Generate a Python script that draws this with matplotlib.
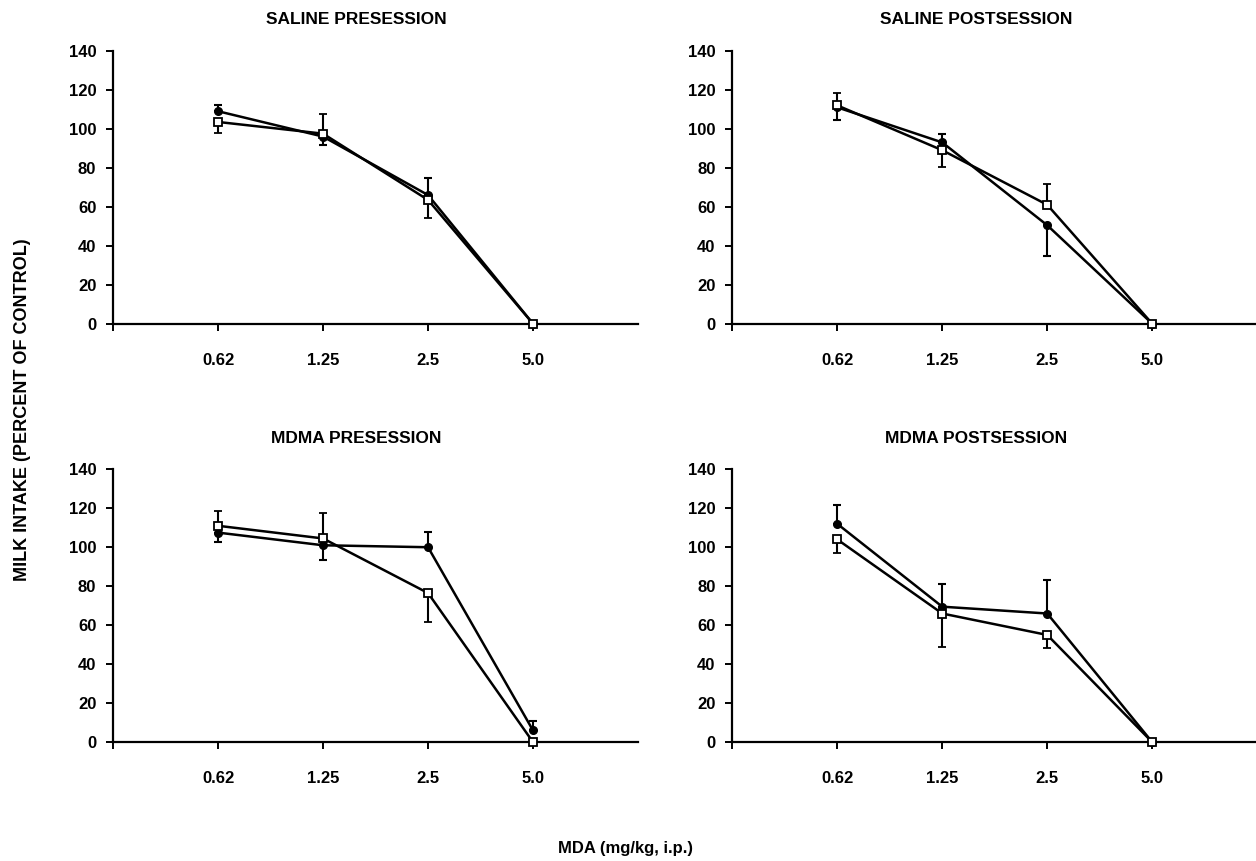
import matplotlib
matplotlib.use('Agg')
import matplotlib.pyplot as plt

plt.rcParams['font.family'] = ['Liberation Sans', 'DejaVu Sans']
plt.rcParams['font.weight'] = 'bold'

# dose categories (mg/kg)
doses = ['0.62', '1.25', '2.5', '5.0']
titles = ['SALINE PRESESSION', 'SALINE POSTSESSION', 'MDMA PRESESSION', 'MDMA POSTSESSION']

# filled circle series: means, upper and lower error
filled_vals = [[109, 96, 66, 0], [111, 93, 50.5, 0], [107.5, 101, 100, 6], [112, 69.5, 66, 0]]
filled_up = [[3, 0, 9, 0], [0, 4.5, 0, 0], [0, 0, 8, 5], [9.5, 11.5, 17, 0]]
filled_down = [[0, 4.5, 0, 0], [6.5, 0, 16, 0], [5, 7.5, 0, 0], [0, 0, 0, 0]]

# open square series
open_vals = [[103.5, 97.5, 63.5, 0], [112, 89, 61, 0], [111, 104.5, 76.5, 0], [104, 66, 55, 0]]
open_up = [[0, 10, 0, 0], [6.5, 0, 10.5, 0], [7.5, 13, 0, 0], [0, 0, 0, 0]]
open_down = [[5.5, 0, 9.5, 0], [0, 8.5, 0, 0], [0, 0, 15, 0], [7, 17, 6.5, 0]]

fig = plt.figure(figsize=(12.56, 8.61), dpi=100)

# axes boxes in figure fractions
lefts = [0.090, 0.583, 0.090, 0.583]
bottoms = [0.624, 0.624, 0.138, 0.138]
w, h = 0.418, 0.317

xpos = [1, 2, 3, 4]
for i in range(4):
    ax = fig.add_axes([lefts[i], bottoms[i], w, h])
    ax.errorbar(xpos, filled_vals[i], yerr=[filled_down[i], filled_up[i]], color='black',
                lw=1.8, marker='o', ms=5.5, mfc='black', mec='black', capsize=3, elinewidth=1.5,
                capthick=1.5, clip_on=False, zorder=3)
    ax.errorbar(xpos, open_vals[i], yerr=[open_down[i], open_up[i]], color='black',
                lw=1.8, marker='s', ms=5.5, mfc='white', mec='black', mew=1.3, capsize=3,
                elinewidth=1.5, capthick=1.5, clip_on=False, zorder=4)
    ax.set_xlim(0, 5)
    ax.set_ylim(0, 140)
    ax.set_yticks(range(0, 141, 20))
    ax.set_xticks([0] + xpos)
    ax.set_xticklabels([''] + doses)
    ax.spines['top'].set_visible(False)
    ax.spines['right'].set_visible(False)
    ax.spines['left'].set_linewidth(1.6)
    ax.spines['bottom'].set_linewidth(1.6)
    ax.tick_params(axis='y', direction='out', length=5, width=1.4, pad=7, labelsize=12)
    ax.tick_params(axis='x', direction='out', length=5, width=1.4, pad=16, labelsize=12)
    for lab in ax.get_xticklabels() + ax.get_yticklabels():
        lab.set_fontweight('bold')
    ax.text(2.32, 156, titles[i], ha='center', va='center', fontsize=12.5,
            fontweight='bold', clip_on=False)

fig.text(0.018, 0.524, 'MILK INTAKE (PERCENT OF CONTROL)', rotation=90,
         ha='center', va='center', fontsize=13, fontweight='bold')
fig.text(0.498, 0.015, 'MDA (mg/kg, i.p.)', ha='center', va='center',
         fontsize=12, fontweight='bold')

fig.savefig('out.png', dpi=100)
